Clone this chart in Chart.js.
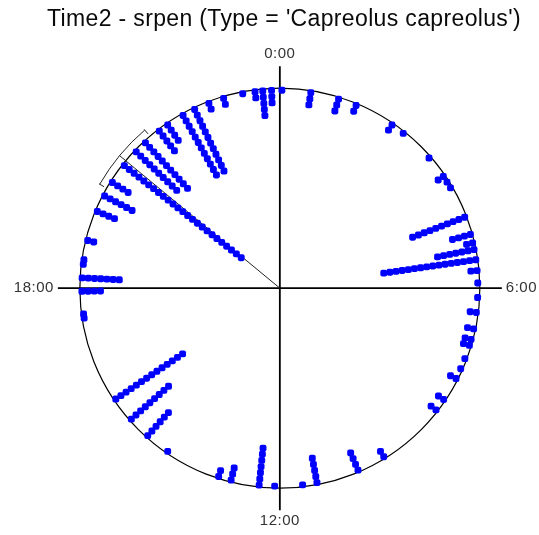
<!DOCTYPE html>
<html>
<head>
<meta charset="utf-8">
<script src="https://cdn.jsdelivr.net/npm/chart.js@4"></script>
<style>
    body { margin: 0; background: #fff; }
</style>
</head>
<body>
<canvas id="circular" width="539" height="535"></canvas>
<script>
// stacked observations: hour of day of each stack and how many records fall in it
const stackHours = [
    0.04, 0.6, 1.15, 1.51, 2.3, 2.57, 3.26, 3.71, 3.84, 3.97,
    4.6, 4.95, 5.12, 5.25, 5.45, 5.66, 5.9, 6.18, 6.47, 6.79,
    7.0, 7.12, 7.39, 7.6, 7.81, 8.28, 8.53, 9.89, 10.45, 11.28,
    11.56, 12.1, 12.4, 12.95, 13.2, 14.3, 14.79, 15.24, 15.73, 17.42,
    17.5, 17.94, 18.2, 18.46, 18.55, 18.93, 19.52, 19.85, 20.15, 20.55,
    20.9, 21.15, 21.5, 21.7, 22.05, 22.3, 22.6, 22.9, 23.28, 23.52,
    23.67, 23.84
]
const stackCounts = [
    1, 3, 3, 2, 2, 1, 1, 2, 1, 1,
    10, 4, 2, 7, 16, 2, 1, 1, 2, 2,
    2, 2, 1, 1, 2, 2, 2, 2, 4, 5,
    1, 1, 7, 3, 2, 1, 6, 9, 14, 1,
    1, 4, 7, 1, 1, 2, 4, 6, 4, 25,
    10, 11, 5, 4, 12, 12, 2, 2, 1, 2,
    5, 3
]
const meanHour = 20.64
const ciHours = [20.0, 21.3]
const tickHours = [0, 6, 12, 18]
const tickLabels = ['0:00', '6:00', '12:00', '18:00']
const title = "Time2 - srpen (Type = 'Capreolus capreolus')"

const RADIUS_PX = 203
const STEP = 0.031      // radial distance between stacked dots
const FIRST = 0.99      // radius of the outermost dot
const CI_R = 1.04

const toXY = (hour, r) => {
    const a = hour / 24 * 2 * Math.PI
    return {x: r * Math.sin(a), y: r * Math.cos(a)}
}

const points = []
stackHours.forEach((h, i) => {
    for (let k = 0; k < stackCounts[i]; k++) {
        points.push(toXY(h, FIRST - k * STEP))
    }
})

const circleFrame = {
    id: 'circleFrame',
    beforeDatasetsDraw(chart) {
        const {ctx, scales: {x, y}} = chart
        const px = (p) => ({x: x.getPixelForValue(p.x), y: y.getPixelForValue(p.y)})
        const c = px({x: 0, y: 0})
        const rad = x.getPixelForValue(1) - c.x
        ctx.save()
        ctx.strokeStyle = '#000'
        ctx.lineWidth = 1.2
        ctx.beginPath()
        ctx.arc(c.x, c.y, rad, 0, Math.PI * 2)
        ctx.stroke()

        // cross axes
        ctx.lineWidth = 1.8
        ctx.beginPath()
        const ext = 1.11
        const l = px({x: -ext, y: 0}), r = px({x: ext, y: 0})
        const t = px({x: 0, y: ext}), b = px({x: 0, y: -ext})
        ctx.moveTo(l.x, c.y); ctx.lineTo(r.x, c.y)
        ctx.moveTo(c.x, t.y); ctx.lineTo(c.x, b.y)
        ctx.stroke()

        // mean vector and confidence arc
        ctx.lineWidth = 1
        ctx.strokeStyle = '#222'
        const m = px(toXY(meanHour, CI_R))
        ctx.beginPath()
        ctx.moveTo(c.x, c.y)
        ctx.lineTo(m.x, m.y)
        ctx.stroke()
        ctx.beginPath()
        const a0 = ciHours[0] / 24 * 2 * Math.PI - Math.PI / 2
        const a1 = ciHours[1] / 24 * 2 * Math.PI - Math.PI / 2
        ctx.arc(c.x, c.y, rad * CI_R, a0, a1)
        ctx.stroke()
        ciHours.forEach(h => {
            const p0 = px(toXY(h, CI_R + 0.004))
            const p1 = px(toXY(h, CI_R - 0.025))
            ctx.beginPath()
            ctx.moveTo(p0.x, p0.y)
            ctx.lineTo(p1.x, p1.y)
            ctx.stroke()
        })
        ctx.restore()
    },
    afterDraw(chart) {
        const {ctx, scales: {x, y}} = chart
        const c = {x: x.getPixelForValue(0), y: y.getPixelForValue(0)}
        ctx.save()
        ctx.fillStyle = '#333'
        ctx.font = '15px "Liberation Sans", Arial, sans-serif'
        ctx.letterSpacing = '0.5px'
        const lab = [
            {x: c.x, y: y.getPixelForValue(1.17), align: 'center'},
            {x: x.getPixelForValue(1.11) + 4, y: c.y, align: 'left'},
            {x: c.x, y: y.getPixelForValue(-1.165), align: 'center'},
            {x: x.getPixelForValue(-1.11) - 4, y: c.y, align: 'right'},
        ]
        tickHours.forEach((h, i) => {
            ctx.textAlign = lab[i].align
            ctx.textBaseline = 'middle'
            ctx.fillText(tickLabels[i], lab[i].x, lab[i].y)
        })
        ctx.fillStyle = '#0a0a0a'
        ctx.font = '23px "Liberation Sans", Arial, sans-serif'
        ctx.letterSpacing = '0.35px'
        ctx.textAlign = 'center'
        ctx.fillText(title, 284, 20)
        ctx.restore()
    }
}

const W = 539, H = 535, CX = 280, CY = 288.5

new Chart(document.getElementById('circular').getContext('2d'), {
    type: 'scatter',
    data: {
        datasets: [{
            data: points,
            backgroundColor: '#0000ff',
            borderWidth: 0,
            pointRadius: 4,
            pointStyle: 'rectRounded',
        }]
    },
    options: {
        responsive: false,
        animation: false,
        devicePixelRatio: 1,
        layout: {padding: 0},
        plugins: {
            legend: {display: false},
            tooltip: {enabled: false},
        },
        scales: {
            x: {type: 'linear', display: false, min: -CX / RADIUS_PX, max: (W - CX) / RADIUS_PX},
            y: {type: 'linear', display: false, min: -(H - CY) / RADIUS_PX, max: CY / RADIUS_PX},
        }
    },
    plugins: [circleFrame]
})
</script>
</body>
</html>
